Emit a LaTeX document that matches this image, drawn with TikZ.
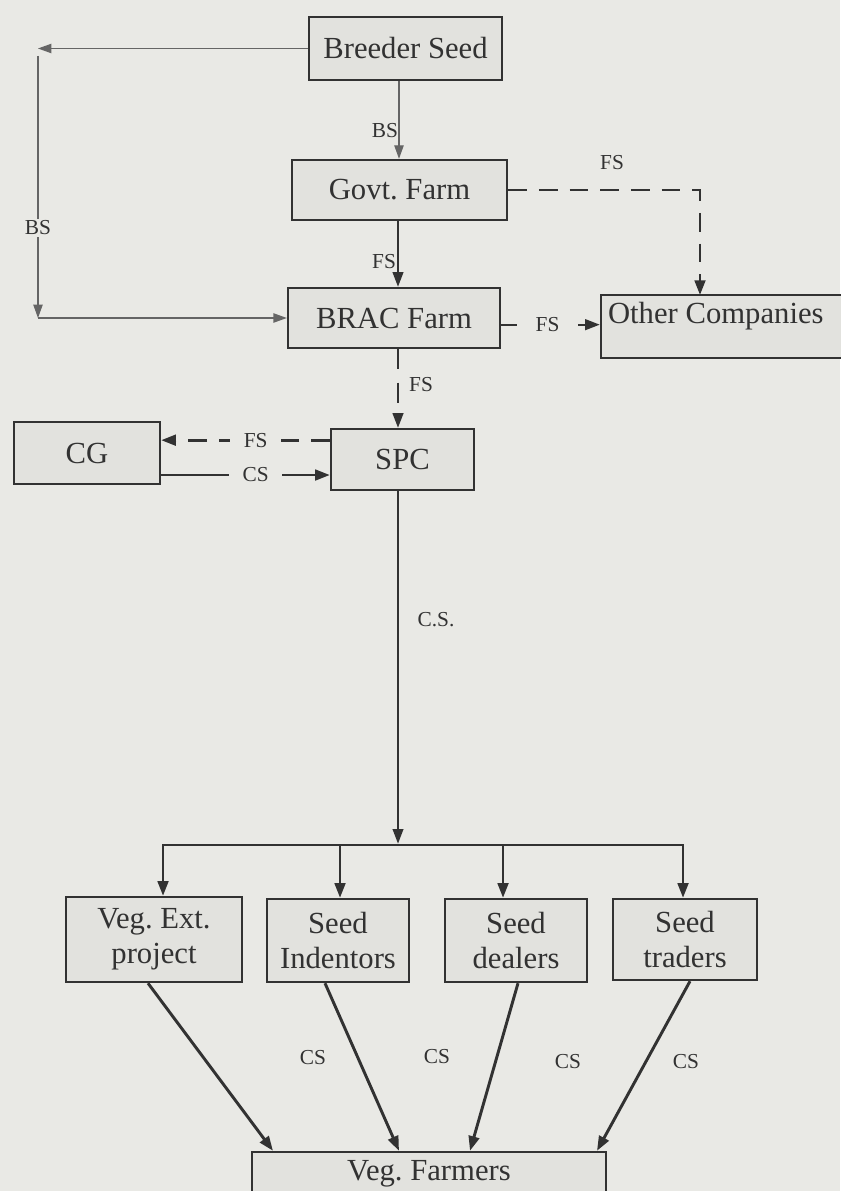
\documentclass[tikz,border=0pt]{standalone}
\usepackage{fontspec}
\setmainfont{Liberation Serif}
\usetikzlibrary{arrows.meta}
\definecolor{bg}{RGB}{233,233,229}
\definecolor{ink}{RGB}{50,50,50}
\definecolor{boxfill}{RGB}{226,226,222}
\begin{document}
\frenchspacing
\begin{tikzpicture}[x=0.75pt,y=-0.75pt,
  box/.style={draw=ink, line width=1.8pt, fill=boxfill, inner sep=0pt, text=ink,
    font=\fontsize{23}{26}\selectfont, align=center},
  boxtext/.style={font=\fontsize{23}{26}\selectfont, text=ink},
  lbl/.style={font=\fontsize{16}{18}\selectfont, text=ink, inner sep=1.5pt},
  flow/.style={draw=ink, line width=2pt, -{Triangle[length=11pt,width=8pt]}},
  thinflow/.style={draw=ink!75, line width=0.8pt, -{Triangle[length=10pt,width=7pt]}},
  dashflow/.style={draw=ink, line width=2pt, dash pattern=on 14pt off 9pt, -{Triangle[length=11pt,width=8pt]}},
  bar/.style={draw=ink, line width=2pt}
]
\fill[bg] (0,0) rectangle (840,1191);
\useasboundingbox (0,0) rectangle (840,1191);

% boxes
\node[box, minimum width=144.75pt, minimum height=47.25pt] (breeder) at (405.5,48.5) {Breeder Seed};
\node[box, minimum width=161.25pt, minimum height=45pt] (govt) at (399.5,190) {Govt. Farm};
\node[box, minimum width=159pt, minimum height=45pt] (brac) at (394,318) {BRAC Farm};
\node[box, minimum width=188.25pt, minimum height=47.25pt,
  label={[boxtext, anchor=north west, inner sep=6pt]north west:Other Companies}] (other) at (726.5,326.5) {};
\node[box, minimum width=109.5pt, minimum height=46.5pt] (cg) at (87,453) {CG};
\node[box, minimum width=107.25pt, minimum height=45.75pt] (spc) at (402.5,459.5) {SPC};
\node[box, minimum width=132pt, minimum height=63.75pt] (veg) at (154,939.5) {Veg. Ext.\\project};
\node[box, minimum width=106.5pt, minimum height=62.25pt] (ind) at (338,940.5) {Seed\\Indentors};
\node[box, minimum width=106.5pt, minimum height=62.25pt] (deal) at (516,940.5) {Seed\\dealers};
\node[box, minimum width=108pt, minimum height=60.75pt] (trad) at (685,939.5) {Seed\\traders};
\node[box, minimum width=265.5pt, minimum height=51pt,
  label={[boxtext, anchor=north, inner sep=7pt]north:Veg. Farmers}] (farm) at (429,1186) {};

% breeder seed side path
\coordinate (tl) at (38,48.5);
\coordinate (bl) at (38,318);
\draw[thinflow] (breeder.west) -- (tl);
\draw[thinflow] (38,56) -- (bl);
\draw[thinflow] (bl) -- (brac.west);
\node[lbl, fill=bg] (bsleft) at (38,228) {BS};

% breeder -> govt
\draw[thinflow] (breeder.south -| 399,0) -- (govt.north -| 399,0);
\node[lbl] (bstop) at (385,131) {BS};

% govt -> brac
\draw[flow, line width=1.4pt] (govt.south -| 398,0) -- (brac.north -| 398,0);
\node[lbl] (fs1) at (384,262) {FS};

% govt -> other
\coordinate (oc) at (700,295);
\draw[dashflow] (govt.east) -| (oc);
\node[lbl] (fs2) at (612,163) {FS};

% brac -> other
\draw[flow, line width=1.6pt] ([yshift=-5pt]brac.east) -- ([yshift=-5pt]brac.east -| other.west)
  node[pos=0.47, lbl, fill=bg, inner xsep=14pt] (fs3) {FS};

% brac -> spc
\draw[dashflow, line width=1.6pt, dash pattern=on 15pt off 10pt] (brac.south -| 398,0) -- (spc.north -| 398,0);
\node[lbl] (fs4) at (421,385) {FS};

% spc <-> cg
\draw[dashflow] ([yshift=14.5pt]spc.west) -- ([yshift=14.5pt]spc.west -| cg.east)
  node[pos=0.44, lbl, fill=bg, inner xsep=10pt] (fs5) {FS};
\draw[flow] ([yshift=-16.5pt]cg.east) -- ([yshift=-16.5pt]cg.east -| spc.west)
  node[pos=0.56, lbl, fill=bg, inner xsep=10pt] (cs1) {CS};

% spc -> distribution
\coordinate (j) at (398,845);
\draw[flow, line width=1.4pt] (spc.south -| 398,0) -- ([yshift=1pt]j);
\node[lbl] (cs0) at (436,620) {C.S.};
\draw[bar] (163,845) -- (683,845);
\draw[flow] (163,844) -- (veg.north -| 163,0);
\draw[flow] (340,844) -- (ind.north -| 340,0);
\draw[flow] (503,844) -- (deal.north -| 503,0);
\draw[flow] (683,844) -- (trad.north -| 683,0);

% to farmers
\draw[flow, line width=2.2pt] (veg.south -| 148,0) -- (farm.north -| 273,0);
\draw[flow, line width=2.2pt] (ind.south -| 325,0) -- (farm.north -| 399,0);
\draw[flow, line width=2.2pt] (deal.south -| 518,0) -- (farm.north -| 470,0);
\draw[flow, line width=2.2pt] (trad.south -| 690,0) -- (farm.north -| 597,0);
\node[lbl] (cs2) at (313,1058) {CS};
\node[lbl] (cs3) at (437,1057) {CS};
\node[lbl] (cs4) at (568,1062) {CS};
\node[lbl] (cs5) at (686,1062) {CS};
\end{tikzpicture}
\end{document}
